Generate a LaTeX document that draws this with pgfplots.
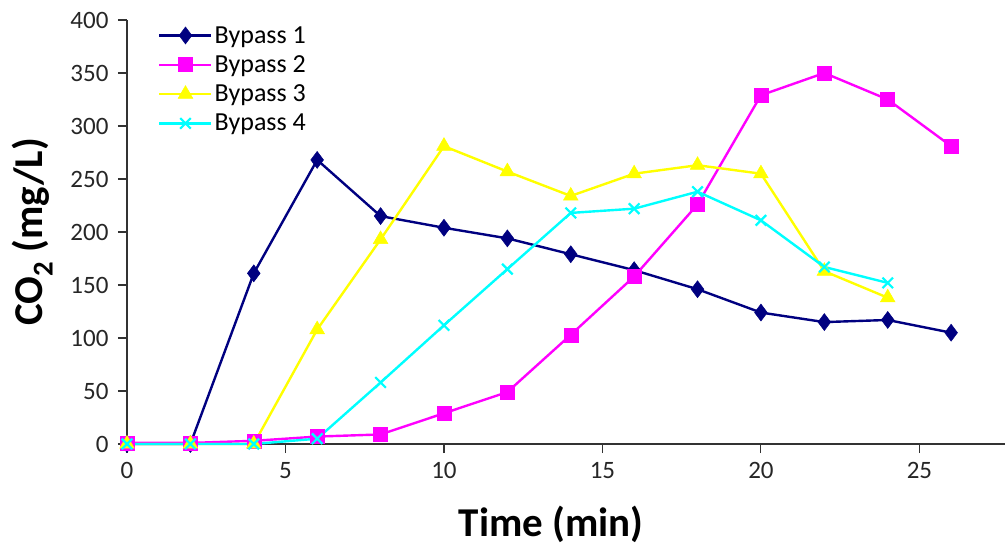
\documentclass[border=0pt]{standalone}
\usepackage{fontspec}
\setmainfont{Carlito}
\usepackage{pgfplots}
\pgfplotsset{compat=1.18}
\definecolor{navyc}{RGB}{0,0,128}
\definecolor{magc}{RGB}{255,0,255}
\definecolor{yelc}{RGB}{255,255,0}
\definecolor{cyac}{RGB}{0,255,255}
\begin{document}
\begin{tikzpicture}
\begin{axis}[
  at={(0,0)}, anchor=south west,
  scale only axis, width=878pt, height=424pt,
  xmin=0, xmax=27.7, ymin=0, ymax=400,
  clip=false,
  axis x line=bottom, axis y line=left,
  axis line style={-, line width=1.2pt, color=black!80},
  tick align=outside, major tick length=9pt,
  tick style={black!80, line width=1.1pt},
  xtick={0,5,...,25}, ytick={0,50,...,400},
  minor tick num=0,
  /pgf/number format/assume math mode=true,
  ticklabel style={font=\fontsize{25}{30}\selectfont, color=black!85},
  xticklabel style={yshift=-6pt},
  yticklabel style={xshift=-6pt},
  xlabel={Time (min)},
  ylabel={CO\textsubscript{2} (mg/L)},
  xlabel style={font=\bfseries\fontsize{41}{47}\selectfont, at={(axis description cs:0.483,-0.19)}, anchor=center},
  ylabel style={font=\bfseries\fontsize{41}{47}\selectfont, at={(axis description cs:-0.108,0.5)}, anchor=center},
  legend style={draw=none, fill=none, at={(axis description cs:0.032,0.995)}, anchor=north west,
    font=\fontsize{26}{30}\selectfont, row sep=7pt},
  legend cell align=left,
  legend image code/.code={\draw[mark repeat=2,mark phase=2] plot coordinates {(0pt,0pt) (26pt,0pt) (52pt,0pt)};},
  every axis plot/.append style={line width=2.4pt},
]
\addplot[color=navyc, mark=diamond*, mark size=8.5pt, mark options={fill=navyc, line width=0.5pt}] coordinates {
(0,0) (2,0) (4,161) (6,268) (8,215) (10,204) (12,194) (14,179) (16,164) (18,146) (20,124) (22,115) (24,117) (26,105)};
\addlegendentry{Bypass 1}
\addplot[color=magc, mark=square*, mark size=7pt, mark options={fill=magc, line width=0.5pt}] coordinates {
(0,1) (2,1) (4,3) (6,7) (8,9) (10,29) (12,49) (14,103) (16,158) (18,226) (20,329) (22,350) (24,325) (26,281)};
\addlegendentry{Bypass 2}
\addplot[color=yelc, mark=triangle*, mark size=8.5pt, mark options={fill=yelc, line width=0.5pt}] coordinates {
(0,0) (2,0) (4,0) (6,108) (8,193) (10,281) (12,257) (14,234) (16,255) (18,263) (20,255) (22,163) (24,138)};
\addlegendentry{Bypass 3}
\addplot[color=cyac, mark=x, mark size=7.5pt, mark options={line width=2.2pt}] coordinates {
(0,0) (2,0) (4,0) (6,5) (8,58) (10,112) (12,165) (14,218) (16,222) (18,238) (20,211) (22,167) (24,152)};
\addlegendentry{Bypass 4}
\end{axis}
\pgfresetboundingbox
\path[use as bounding box] (-127pt,-104pt) rectangle (881pt,444pt);
\end{tikzpicture}
\end{document}
